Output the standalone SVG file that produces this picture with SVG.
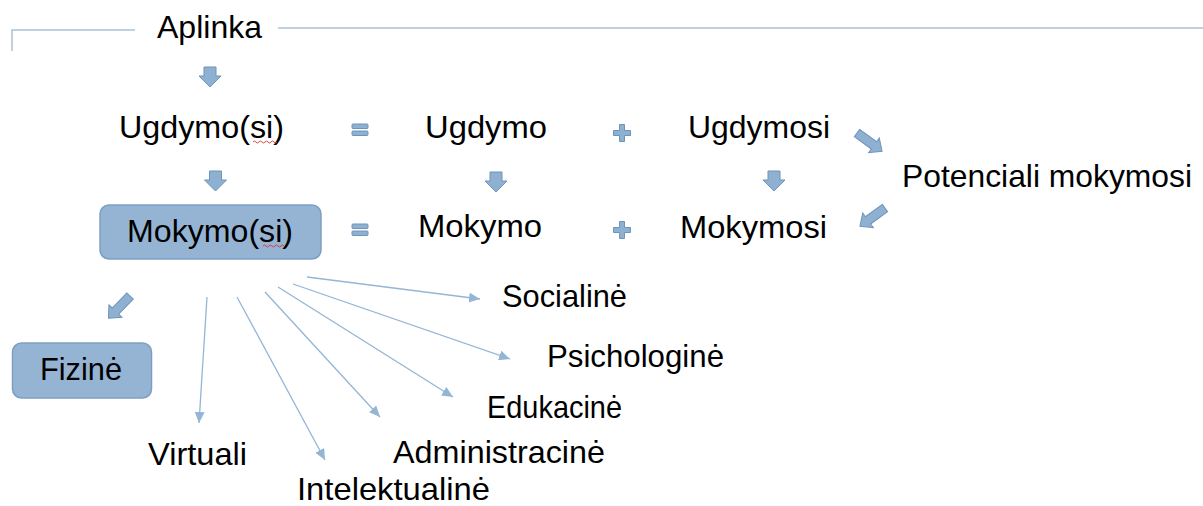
<svg xmlns="http://www.w3.org/2000/svg" xmlns:xlink="http://www.w3.org/1999/xlink" width="1203" height="506" viewBox="0 0 1203 506">
<style>
  text { font-family: "Liberation Sans", Arial, sans-serif; font-size: 32px; fill: #000; }
  .box { fill: #95b4d4; stroke: #7d9ec2; stroke-width: 1.5; }
  .blk { fill: #8fb1d1; stroke: #6e94bb; stroke-width: 1; }
  .thin { fill: none; stroke: #94b5d5; stroke-width: 1.3; }
  .frame { fill: none; stroke: #a9c1d9; stroke-width: 1.5; }
  .squig { fill: none; stroke: #e03030; stroke-width: 0.9; }
</style>
<defs>
  <marker id="ah" markerUnits="userSpaceOnUse" markerWidth="12" markerHeight="10" refX="11" refY="5" orient="auto">
    <path d="M0,0 L11,5 L0,10 Z" fill="#94b5d5"/>
  </marker>
  <polygon id="downArrow" class="blk" points="-6,0 6,0 6,9 11,9 0,20 -11,9 -6,9"/>
  <polygon id="diagArrow" class="blk" points="0,-4.5 21,-4.5 21,-9 31,0 21,9 21,4.5 0,4.5"/>
  <g id="eq">
    <rect class="blk" x="0" y="0" width="16" height="4.5" rx="1"/>
    <rect class="blk" x="0" y="7" width="16" height="4.5" rx="1"/>
  </g>
  <polygon id="plus" class="blk" points="-2.5,-8.5 2.5,-8.5 2.5,-2.5 8.5,-2.5 8.5,2.5 2.5,2.5 2.5,8.5 -2.5,8.5 -2.5,2.5 -8.5,2.5 -8.5,-2.5 -2.5,-2.5"/>
</defs>

<g id="frame-lines">
  <polyline class="frame" points="12,51 12,30 135,30"/>
  <line class="frame" x1="278" y1="28" x2="1203" y2="28"/>
</g>

<g id="node-aplinka">
  <text x="157" y="38" textLength="105" lengthAdjust="spacingAndGlyphs">Aplinka</text>
</g>

<g id="node-ugdymosi-all">
  <text x="119" y="138" textLength="165" lengthAdjust="spacingAndGlyphs">Ugdymo(si)</text>
  <path class="squig" d="M253,142 q1.5,-2 3,0 t3,0 t3,0 t3,0 t3,0 t3,0 t3,0 t3,0"/>
</g>
<g id="node-ugdymo">
  <text x="425" y="138" textLength="122" lengthAdjust="spacingAndGlyphs">Ugdymo</text>
</g>
<g id="node-ugdymosi">
  <text x="688" y="138" textLength="142" lengthAdjust="spacingAndGlyphs">Ugdymosi</text>
</g>
<g id="node-potenciali">
  <text x="902" y="187" textLength="290" lengthAdjust="spacingAndGlyphs">Potenciali mokymosi</text>
</g>

<g id="node-mokymosi-all">
  <rect class="box" x="100" y="205" width="221" height="54" rx="9"/>
  <text x="127" y="242" textLength="166" lengthAdjust="spacingAndGlyphs">Mokymo(si)</text>
  <path class="squig" d="M263,246 q1.5,-2 3,0 t3,0 t3,0 t3,0 t3,0 t3,0 t3,0"/>
</g>
<g id="node-mokymo">
  <text x="418" y="237" textLength="124" lengthAdjust="spacingAndGlyphs">Mokymo</text>
</g>
<g id="node-mokymosi">
  <text x="680" y="238" textLength="147" lengthAdjust="spacingAndGlyphs">Mokymosi</text>
</g>

<g id="node-fizine">
  <rect class="box" x="12.5" y="343" width="139" height="55" rx="9"/>
  <text x="40" y="380" textLength="82" lengthAdjust="spacingAndGlyphs">Fizinė</text>
</g>
<g id="node-socialine"><text x="502" y="307" textLength="125" lengthAdjust="spacingAndGlyphs">Socialinė</text></g>
<g id="node-psichologine"><text x="547" y="367" textLength="177" lengthAdjust="spacingAndGlyphs">Psichologinė</text></g>
<g id="node-edukacine"><text x="487" y="418" textLength="135" lengthAdjust="spacingAndGlyphs">Edukacinė</text></g>
<g id="node-administracine"><text x="393" y="463" textLength="212" lengthAdjust="spacingAndGlyphs">Administracinė</text></g>
<g id="node-virtuali"><text x="148" y="465" textLength="99" lengthAdjust="spacingAndGlyphs">Virtuali</text></g>
<g id="node-intelektualine"><text x="297" y="500" textLength="193" lengthAdjust="spacingAndGlyphs">Intelektualinė</text></g>

<g id="operators">
  <use xlink:href="#eq" href="#eq" x="352" y="124"/>
  <use xlink:href="#eq" href="#eq" x="352" y="224"/>
  <use xlink:href="#plus" href="#plus" transform="translate(622,133)"/>
  <use xlink:href="#plus" href="#plus" transform="translate(622,230)"/>
</g>

<g id="connectors">
  <use xlink:href="#downArrow" href="#downArrow" transform="translate(210,67)"/>
  <use xlink:href="#downArrow" href="#downArrow" transform="translate(215.5,171)"/>
  <use xlink:href="#downArrow" href="#downArrow" transform="translate(496,172)"/>
  <use xlink:href="#downArrow" href="#downArrow" transform="translate(774,171)"/>
  <use xlink:href="#diagArrow" href="#diagArrow" transform="translate(857,133) rotate(36)"/>
  <use xlink:href="#diagArrow" href="#diagArrow" transform="translate(885,208) rotate(144)"/>
  <use xlink:href="#diagArrow" href="#diagArrow" transform="translate(130,296) rotate(134)"/>

  <line class="thin" marker-end="url(#ah)" x1="207" y1="297" x2="199" y2="423"/>
  <line class="thin" marker-end="url(#ah)" x1="237" y1="297" x2="325" y2="460"/>
  <line class="thin" marker-end="url(#ah)" x1="265" y1="292" x2="380" y2="417"/>
  <line class="thin" marker-end="url(#ah)" x1="278" y1="287" x2="453" y2="397"/>
  <line class="thin" marker-end="url(#ah)" x1="293" y1="284" x2="510" y2="359"/>
  <line class="thin" marker-end="url(#ah)" x1="307" y1="277" x2="480" y2="299"/>
</g>
</svg>
